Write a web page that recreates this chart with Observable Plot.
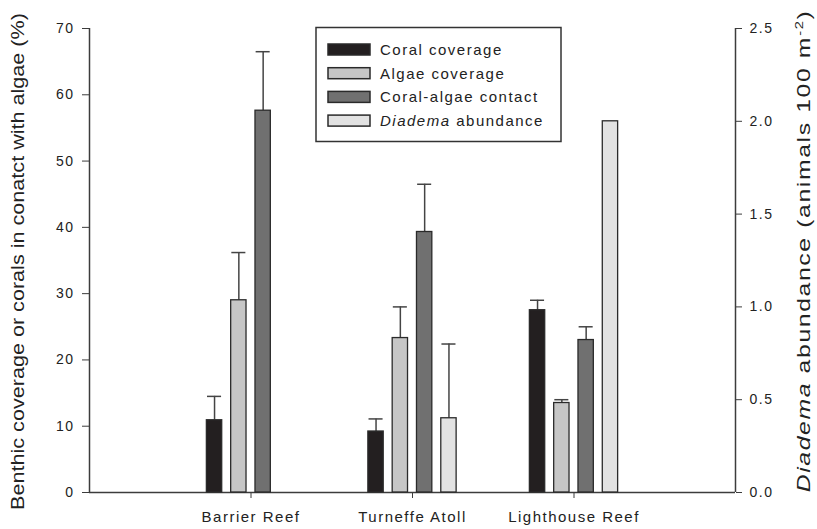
<!DOCTYPE html>
<html>
<head>
<meta charset="utf-8">
<script src="https://cdn.jsdelivr.net/npm/d3@7"></script>
<script src="https://cdn.jsdelivr.net/npm/@observablehq/plot@0.6"></script>
<style>
  html, body { margin: 0; padding: 0; background: #fff; }
  #chart svg text { font-family: "Liberation Sans", Arial, sans-serif; }
  .tick-lbl text { letter-spacing: 1.5px; }
</style>
</head>
<body>
<div id="chart"></div>
<script>
// ---- data ----
const categories = ["Barrier Reef", "Turneffe Atoll", "Lighthouse Reef"];
const seriesNames = ["Coral coverage", "Algae coverage", "Coral-algae contact", "Diadema abundance"];
const seriesColors = ["#231f20", "#c6c6c6", "#707070", "#e2e2e2"];
const coralCoverage = [10.9, 9.2, 27.5];
const coralCoverageErr = [3.6, 1.9, 1.5];
const algaeCoverage = [29.0, 23.3, 13.5];
const algaeCoverageErr = [7.2, 4.7, 0.5];
const coralAlgaeContact = [57.6, 39.3, 23.0];
const coralAlgaeContactErr = [8.9, 7.2, 2.0];
const diademaAbundance = [null, 0.40, 2.00];
const diademaAbundanceErr = [null, 0.40, 0];
const leftTicks = [0, 10, 20, 30, 40, 50, 60, 70];
const rightTicks = [0.0, 0.5, 1.0, 1.5, 2.0, 2.5];

const leftMax = 70, rightMax = 2.5;
const ratio = leftMax / rightMax;

const seriesVals = [coralCoverage, algaeCoverage, coralAlgaeContact, diademaAbundance];
const seriesErrs = [coralCoverageErr, algaeCoverageErr, coralAlgaeContactErr, diademaAbundanceErr];

const rows = [];
categories.forEach((c, i) => {
  seriesVals.forEach((vals, s) => {
    const v = vals[i];
    if (v == null) return;
    const k = s === 3 ? ratio : 1;
    rows.push({cat: i + 1, s, v: v * k, e: seriesErrs[s][i] * k, color: seriesColors[s]});
  });
});

const gap = 0.1505, barW = 0.095, capW = 0.087;
const cx = d => d.cat + (d.s - 1.5) * gap;
const errRows = rows.filter(d => d.e > 0);

const axisColor = "#3c3c3c";

const plot = Plot.plot({
  width: 817,
  height: 529,
  marginLeft: 89,
  marginRight: 82,
  marginTop: 28,
  marginBottom: 37,
  x: {type: "linear", domain: [0, 4]},
  y: {domain: [0, leftMax]},
  style: {fontFamily: "Liberation Sans, Arial, sans-serif", color: "#222", background: "#fff"},
  marks: [
    Plot.axisY(leftTicks, {anchor: "left", tickSize: 7, tickPadding: 8, fontSize: 14, label: null, stroke: axisColor, className: "tick-lbl"}),
    Plot.axisY(rightTicks.map(v => v * ratio), {anchor: "right", tickSize: 6, tickPadding: 8, fontSize: 14, label: null, stroke: axisColor,
      tickFormat: d => (d / ratio).toFixed(1), className: "tick-lbl"}),
    Plot.axisX([1, 2, 3], {anchor: "bottom", tickSize: 6, tickPadding: 13, fontSize: 15, label: null, stroke: axisColor,
      tickFormat: d => categories[d - 1], className: "tick-lbl"}),
    Plot.ruleX([0, 4], {stroke: axisColor, strokeWidth: 1.5}),
    Plot.ruleY([0], {stroke: axisColor, strokeWidth: 1.5}),
    Plot.ruleX(errRows, {x: cx, y1: d => d.v, y2: d => d.v + d.e, stroke: "#444", strokeWidth: 1.5}),
    Plot.ruleY(errRows, {y: d => d.v + d.e, x1: d => cx(d) - capW / 2, x2: d => cx(d) + capW / 2, stroke: "#444", strokeWidth: 1.5}),
    Plot.rect(rows, {x1: d => cx(d) - barW / 2, x2: d => cx(d) + barW / 2, y1: 0, y2: d => d.v,
      fill: d => d.color, stroke: "#2a2a2a", strokeWidth: 1.3})
  ]
});

document.getElementById("chart").appendChild(plot);

const svg = d3.select(plot);
const font = "Liberation Sans, Arial, sans-serif";

function stretchTo(textSel, x, yc, target) {
  const len = textSel.node().getComputedTextLength();
  const k = len > 0 ? target / len : 1;
  textSel.attr("transform", `translate(${x},${yc}) rotate(-90) scale(${k},1)`);
}

// Left axis title
const lt = svg.append("text")
  .attr("text-anchor", "middle")
  .attr("font-size", 18)
  .attr("font-family", font)
  .attr("fill", "#222")
  .text("Benthic coverage or corals in conatct with algae (%)");
stretchTo(lt, 24, 261.5, 497);

// Right axis title
const rt = svg.append("text")
  .attr("text-anchor", "middle")
  .attr("font-size", 18.5)
  .attr("font-family", font)
  .attr("fill", "#222")
  .style("letter-spacing", "1.2px");
rt.append("tspan").attr("font-style", "italic").text("Diadema");
rt.append("tspan").text(" abundance (animals 100 m");
rt.append("tspan").attr("font-size", 11).attr("dy", -7).text("-2");
rt.append("tspan").attr("dy", 7).text(")");
stretchTo(rt, 810, 251, 483);

// Legend
const lg = svg.append("g").attr("text-anchor", "start");
lg.append("rect").attr("x", 316).attr("y", 27.5).attr("width", 245).attr("height", 114)
  .attr("fill", "#fff").attr("stroke", "#333").attr("stroke-width", 1.5);
seriesNames.forEach((name, i) => {
  const yc = 49.5 + i * 23.7;
  lg.append("rect").attr("x", 328).attr("y", yc - 5.5).attr("width", 42).attr("height", 11)
    .attr("fill", seriesColors[i]).attr("stroke", "#2a2a2a").attr("stroke-width", 1.5);
  const t = lg.append("text").attr("x", 380).attr("y", yc).attr("dy", "0.36em")
    .attr("text-anchor", "start")
    .attr("font-size", 15).attr("font-family", font).attr("fill", "#222")
    .style("letter-spacing", "1.5px");
  if (name.startsWith("Diadema")) {
    t.append("tspan").attr("font-style", "italic").text("Diadema");
    t.append("tspan").text(" abundance");
  } else {
    t.text(name);
  }
});
</script>
</body>
</html>
